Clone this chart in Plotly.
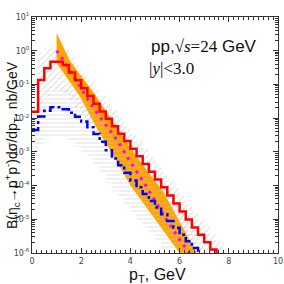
import plotly.graph_objects as go

# ---- data ----
bin_w = 0.25
# red histogram, bins starting at 0
red_vals = [0.0155, 0.135, 0.302, 0.468, 0.468, 0.380, 0.224, 0.132, 0.0776, 0.0457,
            0.0269, 0.0158, 0.00955, 0.00575, 0.00347, 0.00209, 0.00123, 7.4e-4, 4.37e-4, 2.57e-4,
            1.51e-4, 8.9e-5, 5.1e-5, 2.95e-5, 1.7e-5, 9.8e-6, 5.75e-6, 3.47e-6, 2.09e-6, 1.26e-6]
# hatched (diagonal) band around red, bins starting at 0.25
hatch_up = [0.89, 1.2, 1.26, 1.26, 1.07, 0.63, 0.372, 0.219, 0.129, 0.0759,
            0.0447, 0.0266, 0.0162, 0.00977, 0.00589, 0.00347, 0.00209, 0.00123, 7.2e-4, 4.27e-4,
            2.51e-4, 1.45e-4, 8.3e-5, 4.8e-5, 2.75e-5, 1.62e-5, 9.8e-6, 5.9e-6, 3.55e-6, 2.09e-6, 1.26e-6]
hatch_lo = [0.0178, 0.0417, 0.0661, 0.0661, 0.0537, 0.0316, 0.0186, 0.011, 0.00646, 0.0038,
            0.00224, 0.00135, 8.1e-4, 4.9e-4, 2.95e-4, 1.74e-4, 1.05e-4, 6.2e-5, 3.6e-5, 2.1e-5,
            1.26e-5, 7.2e-6, 4.2e-6, 2.4e-6, 1.4e-6, 8.1e-7, 5e-7, 3e-7, 2e-7, 1e-7, 1e-7]
# blue histogram, bins starting at 0
blue_vals = [4.47e-3, 0.0112, 0.0166, 0.0209, 0.0209, 0.0182, 0.0145, 0.011, 7.9e-3, 5.4e-3,
             3.4e-3, 2.0e-3, 1.12e-3, 6.3e-4, 4.0e-4, 2.4e-4, 1.41e-4, 8.9e-5, 5.6e-5, 3.5e-5,
             2.24e-5, 1.41e-5, 8.9e-6, 5.6e-6, 3.5e-6, 2.24e-6, 1.41e-6]
# horizontal-line band around blue, bins starting at 0
hband_up = [0.0178, 0.0447, 0.066, 0.083, 0.083, 0.072, 0.058, 0.044, 0.0316, 0.0214,
            0.0135, 0.0079, 0.0045, 0.0025, 0.0016, 9.5e-4, 5.6e-4, 3.5e-4, 2.2e-4, 1.4e-4,
            8.9e-5, 5.6e-5, 3.5e-5, 2.2e-5, 1.4e-5, 8.9e-6, 5.6e-6]
hband_lo = [6.3e-4, 0.0016, 0.0024, 0.0029, 0.0029, 0.0025, 0.0019, 0.0014, 9.5e-4, 6.3e-4,
            3.8e-4, 2.2e-4, 1.2e-4, 6.8e-5, 4.2e-5, 2.5e-5, 1.45e-5, 9.1e-6, 5.7e-6, 3.5e-6,
            2.24e-6, 1.41e-6, 8.9e-7, 5.6e-7, 3.5e-7, 2.24e-7, 1.41e-7]
# orange band edges
orange_lo_x = [1.0, 1.95, 2.63, 3.3, 4.0, 5.0, 6.0, 6.3]
orange_lo_y = [0.43, 0.0437, 0.005, 7.9e-4, 1.0e-4, 1.0e-5, 1.0e-6, 5e-7]
orange_up_x = [1.0, 1.54, 2.56, 3.51, 4.25, 5.35, 6.7, 6.9]
orange_up_y = [3.4, 0.5, 0.05, 0.00447, 7.1e-4, 6.3e-5, 1.0e-6, 5e-7]
# magenta dotted curve
mag_x = [1.0, 1.25, 1.5, 2.0, 2.5, 3.0, 3.5, 4.0, 4.5, 5.0, 5.5, 6.0, 6.4]
mag_y = [1.0, 0.56, 0.28, 0.076, 0.02, 0.0063, 0.002, 5.0e-4, 1.41e-4, 3.5e-5, 8.9e-6, 2.5e-6, 1.0e-6]

y_tickvals = [1e-6, 1e-5, 1e-4, 1e-3, 1e-2, 1e-1, 1, 10]
y_ticktext = ["10<sup>-6</sup>", "10<sup>-5</sup>", "10<sup>-4</sup>", "10<sup>-3</sup>",
              "10<sup>-2</sup>", "10<sup>-1</sup>", "10<sup>0</sup>", "10<sup>1</sup>"]
x_tickvals = [0, 2, 4, 6, 8, 10]


def hist_xy(x0, vals, drop_end=True):
    edges = [x0 + i * bin_w for i in range(len(vals) + 1)]
    ys = list(vals) + [vals[-1]]
    xs = edges
    if drop_end:
        xs = xs + [edges[-1]]
        ys = ys + [1e-9]
    return xs, ys


def step_poly(x0, up, lo):
    n = len(up)
    edges = [x0 + i * bin_w for i in range(n + 1)]
    px, py = [], []
    for i in range(n):
        px += [edges[i], edges[i + 1]]
        py += [up[i], up[i]]
    for i in reversed(range(n)):
        px += [edges[i + 1], edges[i]]
        py += [lo[i], lo[i]]
    return px, py


fig = go.Figure()

# diagonal hatched band (red uncertainty)
hx, hy = step_poly(0.25, hatch_up, hatch_lo)
fig.add_trace(go.Scatter(x=hx, y=hy, mode="lines", fill="toself", line=dict(width=0),
                         fillcolor="rgba(0,0,0,0)",
                         fillpattern=dict(shape="/", fgcolor="#9a9a9a", bgcolor="rgba(0,0,0,0)",
                                          size=4.5, solidity=0.2),
                         hoverinfo="skip", showlegend=False))
# orange band
ox = orange_lo_x + orange_up_x[::-1]
oy = orange_lo_y + orange_up_y[::-1]
fig.add_trace(go.Scatter(x=ox, y=oy, mode="lines", fill="toself", line=dict(width=0),
                         fillcolor="#ffa500", hoverinfo="skip", showlegend=False))
# horizontal-line band (blue uncertainty)
bx, by = step_poly(0.0, hband_up, hband_lo)
fig.add_trace(go.Scatter(x=bx, y=by, mode="lines", fill="toself", line=dict(width=0),
                         fillcolor="rgba(0,0,0,0)",
                         fillpattern=dict(shape="-", fgcolor="#c4c4c4", bgcolor="rgba(0,0,0,0)",
                                          size=4, solidity=0.25),
                         hoverinfo="skip", showlegend=False))
# magenta dotted
fig.add_trace(go.Scatter(x=mag_x, y=mag_y, mode="lines",
                         line=dict(color="#ff00ff", width=3, dash="3px,5px"),
                         hoverinfo="skip", showlegend=False))
# blue dash-dot histogram
bxs, bys = hist_xy(0.0, blue_vals)
fig.add_trace(go.Scatter(x=bxs, y=bys, mode="lines", line=dict(color="#0000ff", width=2.5, dash="dashdot", shape="hv"),
                         hoverinfo="skip", showlegend=False))
# red histogram
rxs, rys = hist_xy(0.0, red_vals)
fig.add_trace(go.Scatter(x=rxs, y=rys, mode="lines", line=dict(color="#ff0000", width=2.5, shape="hv"),
                         hoverinfo="skip", showlegend=False))

axis_common = dict(showgrid=False, zeroline=False, showline=True, linecolor="#333333", linewidth=1,
                   mirror="allticks", ticks="inside", tickcolor="#333333", automargin=False,
                   tickfont=dict(family="DejaVu Sans", size=8, color="#444444"))

fig.update_xaxes(range=[0, 10], tickvals=x_tickvals, ticklen=5,
                 minor=dict(ticks="inside", dtick=0.2, ticklen=3, tickcolor="#333333"),
                 **axis_common)
fig.update_yaxes(type="log", range=[-6, 1], tickvals=y_tickvals, ticktext=y_ticktext, ticklen=5,
                 minor=dict(ticks="inside", dtick="D1", ticklen=3, tickcolor="#333333"),
                 **axis_common)

fig.add_annotation(xref="paper", yref="paper", x=-0.081, y=0.458, textangle=-90,
                   xanchor="center", yanchor="middle",
                   text="B(η<sub>c</sub>→p<sup>+</sup>p<sup>-</sup>)dσ/dp<sub>T</sub>, nb/GeV",
                   showarrow=False, font=dict(family="Liberation Sans", size=14, color="#111111"))
fig.add_annotation(xref="paper", yref="paper", x=0.512, y=-0.097,
                   xanchor="center", yanchor="middle",
                   text="p<sub>T</sub>, GeV", showarrow=False,
                   font=dict(family="Liberation Sans", size=16, color="#111111"))
fig.add_annotation(xref="paper", yref="paper", x=0.476, y=0.873, xanchor="left", yanchor="middle",
                   text="pp,<span style='font-family:Liberation Serif'>√<i>s</i>=24</span> GeV",
                   showarrow=False, font=dict(family="Liberation Sans", size=17, color="#111111"))
fig.add_annotation(xref="paper", yref="paper", x=0.468, y=0.78, xanchor="left", yanchor="middle",
                   text="<span style='font-family:Liberation Serif'>|<i>y</i>|<3.0</span>",
                   showarrow=False, font=dict(family="Liberation Serif", size=17, color="#111111"))

fig.update_layout(width=284, height=284, margin=dict(l=32, r=6, t=17, b=31),
                  paper_bgcolor="white", plot_bgcolor="white")

fig.write_html("out.html", config={"displayModeBar": False, "staticPlot": True},
               post_script="document.body.style.margin='0';document.body.style.padding='0';")
